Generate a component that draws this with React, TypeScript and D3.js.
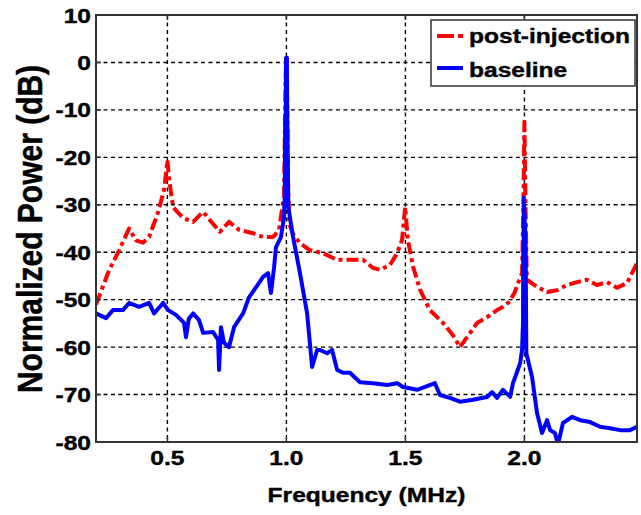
import React from "react";
import * as d3 from "d3";

// ---- data ----
const postFreq = [0.2, 0.255, 0.297, 0.339, 0.368, 0.397, 0.423, 0.46, 0.486, 0.5, 0.508, 0.524, 0.566, 0.608, 0.65, 0.671, 0.721, 0.759, 0.801, 0.86, 0.902, 0.944, 0.969, 0.99, 0.996, 0.999, 1.003, 1.007, 1.012, 1.028, 1.057, 1.099, 1.154, 1.213, 1.267, 1.322, 1.364, 1.393, 1.435, 1.465, 1.486, 1.499, 1.51, 1.532, 1.561, 1.603, 1.658, 1.7, 1.729, 1.759, 1.801, 1.843, 1.885, 1.91, 1.935, 1.958, 1.975, 1.99, 1.996, 2.0, 2.004, 2.01, 2.053, 2.095, 2.137, 2.179, 2.221, 2.263, 2.305, 2.347, 2.389, 2.431, 2.452, 2.473];
const postPower = [-51, -43.8, -39.6, -35, -37.5, -38, -36.8, -31.7, -26.9, -20.6, -25, -30.5, -32.8, -33.6, -31.5, -32.8, -35.7, -33.6, -35.3, -36, -36.8, -36.8, -35.3, -28, -5, 1.5, -6, -25, -34, -36.2, -38.1, -39.6, -40.2, -41.6, -41.6, -41.6, -43.3, -43.7, -42.7, -40.2, -37.4, -30.5, -37.4, -43, -47.9, -52.2, -54.9, -57.5, -60, -57.9, -54.9, -53.7, -52.2, -51.5, -50.5, -48.6, -46.3, -44.4, -30, -12.5, -28, -45.8, -47.3, -48.4, -48, -46.9, -46.3, -45.8, -46.9, -46.3, -47.5, -46.5, -44.4, -42.3];

const baseFreq = [0.2, 0.242, 0.271, 0.313, 0.339, 0.381, 0.423, 0.444, 0.482, 0.503, 0.536, 0.57, 0.578, 0.59, 0.608, 0.633, 0.65, 0.692, 0.713, 0.717, 0.725, 0.738, 0.759, 0.78, 0.818, 0.843, 0.872, 0.902, 0.923, 0.935, 0.948, 0.956, 0.977, 0.99, 0.993, 0.995, 0.997, 0.998, 0.999, 1.0, 1.001, 1.002, 1.003, 1.005, 1.008, 1.028, 1.057, 1.087, 1.108, 1.129, 1.141, 1.171, 1.192, 1.213, 1.238, 1.267, 1.309, 1.364, 1.423, 1.465, 1.49, 1.549, 1.624, 1.645, 1.687, 1.729, 1.784, 1.843, 1.864, 1.885, 1.91, 1.94, 1.952, 1.982, 1.99, 1.994, 1.995, 1.996, 1.997, 1.998, 1.999, 2.0, 2.001, 2.002, 2.003, 2.004, 2.005, 2.008, 2.032, 2.053, 2.074, 2.095, 2.108, 2.128, 2.141, 2.162, 2.2, 2.234, 2.276, 2.318, 2.36, 2.402, 2.444, 2.473];
const basePower = [-52.9, -53.9, -52.2, -52.2, -50.7, -51.5, -50.7, -52.9, -50.7, -52.2, -53.2, -54.9, -57.9, -54, -52.9, -54.3, -57, -56.8, -58.5, -64.8, -55.8, -59.1, -60, -55.8, -52.9, -49.5, -47.4, -45.2, -44.4, -48.6, -43.3, -39, -36.8, -32.6, -28, -12, -25, -3, 1, -20, -2, 1, -10, -18, -30.5, -36.8, -44.4, -52.9, -64.2, -60.6, -60.6, -61.3, -60.6, -64.8, -65.4, -65.4, -67.4, -67.6, -68, -67.6, -68.4, -69, -67.6, -70.1, -70.7, -71.5, -71.1, -70.5, -69.5, -70.7, -69, -70.5, -67.6, -63.4, -60.6, -55, -40, -56, -28.5, -55, -30, -56, -32, -55, -34, -54, -38, -61.3, -66.3, -73.9, -78.1, -75.4, -77.5, -78.1, -80.5, -76, -74.7, -75.4, -75.8, -76.8, -77.1, -77.5, -77.5, -76.8];

const xTicks = [0.5, 1.0, 1.5, 2.0];
const xTickLabels = ["0.5", "1.0", "1.5", "2.0"];
const yTicks = [10, 0, -10, -20, -30, -40, -50, -60, -70, -80];
const seriesNames = ["post-injection", "baseline"];

// ---- layout ----
const W = 641, H = 515;
const L = 96, R = 637, T = 15, B = 442;
const SX = 1.17;
const FONT = "'Liberation Sans', Arial, sans-serif";

export default function App() {
  const x = d3.scaleLinear().domain([0.2, 2.473]).range([L, R]);
  const y = d3.scaleLinear().domain([-80, 10]).range([B, T]);
  const line = d3.line<[number, number]>().x(d => x(d[0])).y(d => y(d[1]));
  const postPts = postFreq.map((f, i) => [f, postPower[i]] as [number, number]);
  const basePts = baseFreq.map((f, i) => [f, basePower[i]] as [number, number]);

  const txt = (tx: number, ty: number, s: string, size: number, anchor: string, key?: string) => (
    <text key={key} transform={`translate(${tx},${ty}) scale(${SX},1)`} textAnchor={anchor}
      fontFamily={FONT} fontWeight="bold" fontSize={size} fill="#000"
      stroke="#000" strokeWidth={0.4}>{s}</text>
  );

  return (
    <svg width={W} height={H} style={{ position: "absolute", left: 0, top: 0, background: "#fff" }}>
      <defs>
        <clipPath id="plot"><rect x={L} y={T} width={R - L} height={B - T} /></clipPath>
      </defs>
      {/* grid */}
      <g stroke="#000" strokeWidth={1.4} strokeDasharray="4,3.5">
        {xTicks.map(t => <line key={"gx" + t} x1={x(t)} x2={x(t)} y1={T} y2={B} />)}
        {yTicks.filter(t => t !== 10 && t !== -80).map(t => <line key={"gy" + t} x1={L} x2={R} y1={y(t)} y2={y(t)} />)}
      </g>
      {/* curves */}
      <g clipPath="url(#plot)" fill="none" strokeLinejoin="round">
        <path d={line(postPts) || ""} stroke="#ff0000" strokeWidth={4} strokeDasharray="12,4,4,4" />
        <path d={line(basePts) || ""} stroke="#0000ff" strokeWidth={4} />
      </g>
      {/* frame */}
      <rect x={L} y={T} width={R - L} height={B - T} fill="none" stroke="#333" strokeWidth={2} />
      <g stroke="#333" strokeWidth={1.5}>
        {xTicks.map(t => <g key={"tx" + t}>
          <line x1={x(t)} x2={x(t)} y1={B} y2={B - 5} />
          <line x1={x(t)} x2={x(t)} y1={T} y2={T + 5} />
        </g>)}
        {yTicks.map(t => <g key={"ty" + t}>
          <line x1={L} x2={L + 5} y1={y(t)} y2={y(t)} />
          <line x1={R} x2={R - 5} y1={y(t)} y2={y(t)} />
        </g>)}
      </g>
      {/* tick labels */}
      {yTicks.map(t => txt(91, y(t) + 7.5, String(t), 21, "end", "yl" + t))}
      {xTicks.map((t, i) => txt(x(t), 465, xTickLabels[i], 21, "middle", "xl" + t))}
      {/* axis titles */}
      {txt((L + R) / 2, 502, "Frequency (MHz)", 21, "middle")}
      <text transform={`translate(42,229) scale(${SX},1) rotate(-90)`} textAnchor="middle"
        fontFamily={FONT} fontWeight="bold" fontSize={30} fill="#000"
        stroke="#000" strokeWidth={0.4}>Normalized Power (dB)</text>
      {/* legend */}
      <rect x={431} y={20} width={204} height={66} fill="#fff" stroke="#333" strokeWidth={1.5} />
      <line x1={437} x2={463} y1={36} y2={36} stroke="#ff0000" strokeWidth={4} strokeDasharray="17,4,5,4" />
      <line x1={437} x2={463} y1={68} y2={68} stroke="#0000ff" strokeWidth={4} />
      {txt(469, 43, seriesNames[0], 21, "start")}
      {txt(469, 77, seriesNames[1], 21, "start")}
    </svg>
  );
}
